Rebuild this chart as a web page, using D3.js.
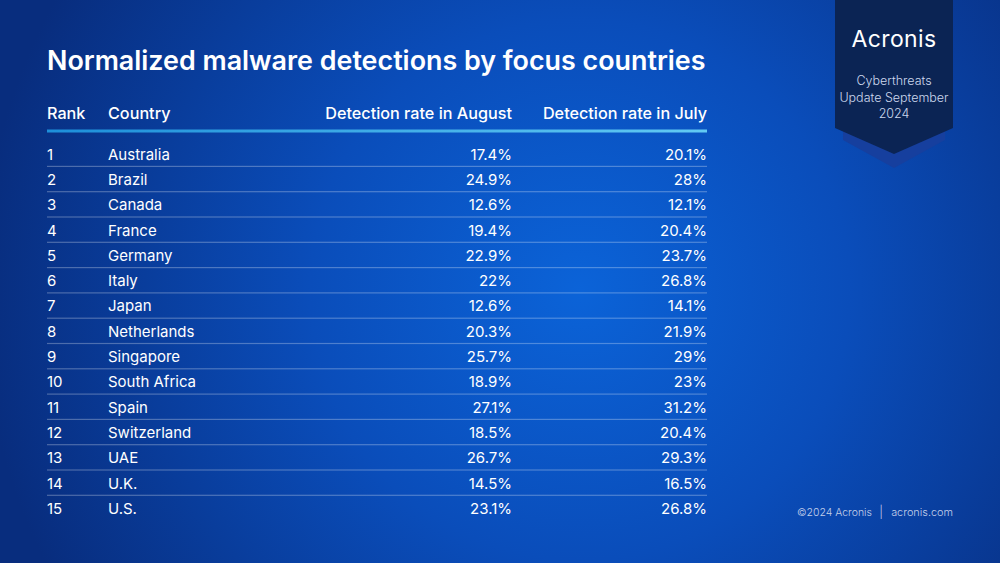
<!DOCTYPE html>
<html><head><meta charset="utf-8">
<script src="https://cdn.jsdelivr.net/npm/d3@7"></script>
<style>
html,body{margin:0;padding:0;background:#0a3a95;}
svg{display:block;font-family:Inter,"Open Sans",sans-serif;}
</style></head>
<body>
<script>
const title = "Normalized malware detections by focus countries";
const headers = ["Rank", "Country", "Detection rate in August", "Detection rate in July"];
const ranks = [1,2,3,4,5,6,7,8,9,10,11,12,13,14,15];
const countries = ["Australia","Brazil","Canada","France","Germany","Italy","Japan","Netherlands","Singapore","South Africa","Spain","Switzerland","UAE","U.K.","U.S."];
const august = [17.4,24.9,12.6,19.4,22.9,22,12.6,20.3,25.7,18.9,27.1,18.5,26.7,14.5,23.1];
const july = [20.1,28,12.1,20.4,23.7,26.8,14.1,21.9,29,23,31.2,20.4,29.3,16.5,26.8];
const badgeLines = ["Cyberthreats", "Update September", "2024"];
const footerParts = ["©2024 Acronis", "|", "acronis.com"];

const W = 1000, H = 563;
const svg = d3.select("body").append("svg").attr("width", W).attr("height", H);
const defs = svg.append("defs");

const bg = defs.append("radialGradient").attr("id","bg")
  .attr("gradientUnits","userSpaceOnUse").attr("cx",580).attr("cy",290).attr("r",600);
bg.append("stop").attr("offset","0%").attr("stop-color","#0b63d8");
bg.append("stop").attr("offset","45%").attr("stop-color","#0a4dba");
bg.append("stop").attr("offset","100%").attr("stop-color","#082d7e");
svg.append("rect").attr("width",W).attr("height",H).attr("fill","url(#bg)");

const lg = defs.append("linearGradient").attr("id","hl").attr("x1","0%").attr("x2","100%");
lg.append("stop").attr("offset","0%").attr("stop-color","#1d8fda");
lg.append("stop").attr("offset","100%").attr("stop-color","#62caf3");

// Badge
const bx0 = 835, bx1 = 953, bcx = 894;
svg.append("path").attr("d", `M843,120 L945,120 L945,140 L${bcx},168 L843,140 Z`).attr("fill","#163f9e");
svg.append("path").attr("d", `M${bx0},0 L${bx1},0 L${bx1},128 L${bcx},154 L${bx0},128 Z`).attr("fill","#0b2454");
svg.append("text").attr("x",bcx).attr("y",47).attr("text-anchor","middle")
  .attr("fill","#fff").attr("font-size",23).attr("font-weight",400).attr("letter-spacing",0.4)
  .text("Acronis");
svg.selectAll("text.badge").data(badgeLines).join("text").attr("class","badge")
  .attr("x",bcx).attr("y",(d,i)=>85+i*16.5).attr("text-anchor","middle")
  .attr("fill","#cdd8ee").attr("font-size",12.5).attr("font-weight",300).text(d=>d);

// Footer
const fX = [797, 881, 953], fA = ["start","middle","end"], fW = [75, 0, 62];
svg.selectAll("text.ft").data(footerParts).join("text").attr("class","ft")
  .attr("x",(d,i)=>fX[i]).attr("y",516).attr("text-anchor",(d,i)=>fA[i])
  .attr("fill","#c4d0ea").attr("font-size",12).attr("font-weight",300).text(d=>d)
  .each(function(d,i){ if (fW[i]) { const w = this.getComputedTextLength(); d3.select(this).attr("font-size", 12*fW[i]/w); } });

// Title
const t = svg.append("text").attr("x",47).attr("y",70).attr("fill","#fff")
  .attr("font-size",26).attr("font-weight",600).text(title);
const tw = t.node().getComputedTextLength();
t.attr("font-size", 26*659/tw);

// Columns
const left = 47, right = 707;
const colX = [47, 108, 512, 707];
const anchors = ["start","start","end","end"];

svg.selectAll("text.hdr").data(headers).join("text").attr("class","hdr")
  .attr("x",(d,i)=>colX[i]).attr("y",119).attr("text-anchor",(d,i)=>anchors[i])
  .attr("fill","#fff").attr("font-size",16.2).attr("font-weight",500).text(d=>d);

svg.append("rect").attr("x",left).attr("y",129.5).attr("width",right-left).attr("height",3).attr("fill","url(#hl)");

const y = d3.scaleBand().domain(d3.range(countries.length)).range([141.5, 521]).paddingInner(0);
const fmt = v => v + "%";
const rows = svg.selectAll("g.row").data(countries.map((c,i)=>({rank:ranks[i],country:c,aug:august[i],jul:july[i],i})))
  .join("g").attr("class","row").attr("transform",d=>`translate(0,${y(d.i)})`);
const rowH = y.bandwidth();
rows.filter(d=>d.i < countries.length-1).append("rect")
  .attr("x",left).attr("y",rowH-1).attr("width",right-left).attr("height",1.2)
  .attr("fill","#ffffff").attr("fill-opacity",0.28);
const cells = d => [d.rank, d.country, fmt(d.aug), fmt(d.jul)];
rows.selectAll("text").data(d=>cells(d)).join("text")
  .attr("x",(d,i)=>colX[i]).attr("y",rowH/2+5.5).attr("text-anchor",(d,i)=>anchors[i])
  .attr("fill","#fff").attr("font-size",15).text(d=>d);
</script>
</body></html>
